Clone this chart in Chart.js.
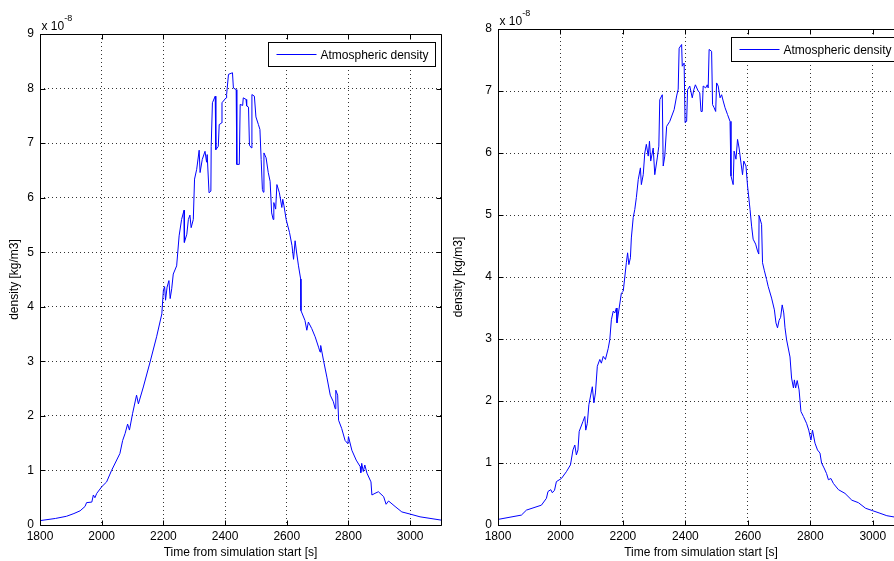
<!DOCTYPE html>
<html>
<head>
    <title>Atmospheric density</title>
    <script src="https://cdn.jsdelivr.net/npm/chart.js"></script>
    <style>
        body {
            margin: 0;
            width: 894px;
            height: 561px;
            overflow: hidden;
            background: #fff;
            position: relative;
        }
        canvas {
            position: absolute;
            top: 0;
        }
        #leftChart { left: 0; }
        #rightChart { left: 445px; }
    </style>
</head>
<body>
    <canvas id="leftChart" width="445" height="561"></canvas>
    <canvas id="rightChart" width="470" height="561"></canvas>

    <script>
        // values in units of 1e-8 kg/m3 (see the "x 10^-8" label)
        const xTicks = [1800, 2000, 2200, 2400, 2600, 2800, 3000];
        const yTicksLeft = [0, 1, 2, 3, 4, 5, 6, 7, 8, 9];
        const yTicksRight = [0, 1, 2, 3, 4, 5, 6, 7, 8];

        const timeLeft = [1800, 1850, 1886, 1910, 1930, 1946, 1951, 1968, 1973, 1978, 1984, 2000, 2016, 2032,
            2059, 2068, 2076, 2084, 2090, 2100, 2113, 2119, 2135, 2157, 2178, 2195, 2200, 2204, 2207, 2212,
            2218, 2222, 2227, 2232, 2243, 2251, 2259, 2267, 2268, 2276, 2281, 2286, 2290, 2297, 2301, 2308,
            2316, 2319, 2326, 2335, 2340, 2342, 2348, 2354, 2355, 2359, 2368, 2370, 2378, 2381, 2389, 2390,
            2403, 2405, 2411, 2424, 2427, 2436, 2438, 2446, 2449, 2457, 2459, 2468, 2470, 2476, 2479, 2486,
            2487, 2495, 2500, 2508, 2513, 2517, 2521, 2524, 2526, 2533, 2540, 2546, 2551, 2556, 2558, 2564,
            2568, 2576, 2584, 2587, 2591, 2598, 2609, 2617, 2622, 2627, 2632, 2638, 2645, 2646, 2659, 2665,
            2670, 2681, 2692, 2703, 2708, 2710, 2719, 2730, 2741, 2751, 2757, 2759, 2765, 2768, 2778, 2789,
            2798, 2800, 2811, 2825, 2838, 2840, 2843, 2848, 2853, 2860, 2873, 2876, 2886, 2897, 2914, 2922,
            2930, 2951, 2973, 3000, 3032, 3100];
        const densityLeft = [0.08, 0.12, 0.16, 0.21, 0.26, 0.34, 0.41, 0.42, 0.55, 0.50, 0.58, 0.70, 0.79, 1.00,
            1.31, 1.55, 1.68, 1.85, 1.74, 2.04, 2.38, 2.22, 2.53, 2.99, 3.45, 3.87, 4.30, 4.37, 4.12, 4.36,
            4.48, 4.15, 4.33, 4.60, 4.75, 5.30, 5.60, 5.77, 5.18, 5.33, 5.60, 5.68, 5.45, 5.60, 6.34, 6.52,
            6.87, 6.46, 6.70, 6.85, 6.65, 6.79, 6.09, 6.12, 6.94, 7.74, 7.86, 6.88, 6.94, 7.34, 7.37, 7.74,
            7.83, 7.89, 8.26, 8.29, 8.01, 7.98, 6.61, 6.61, 7.71, 7.69, 7.83, 7.80, 7.68, 7.66, 6.96, 6.91,
            7.89, 7.86, 7.48, 7.34, 7.25, 6.70, 6.15, 6.10, 6.82, 6.73, 6.46, 6.30, 5.72, 5.60, 5.91, 5.79,
            6.24, 6.09, 5.82, 5.97, 5.85, 5.60, 5.36, 5.12, 4.87, 5.21, 4.99, 4.75, 4.51, 3.93, 3.75, 3.57,
            3.72, 3.60, 3.45, 3.26, 3.17, 3.29, 3.02, 2.71, 2.38, 2.26, 2.13, 2.47, 2.38, 1.92, 1.77, 1.55,
            1.49, 1.62, 1.37, 1.19, 1.07, 0.96, 1.13, 0.98, 1.10, 0.95, 0.79, 0.55, 0.58, 0.61, 0.52, 0.38,
            0.44, 0.34, 0.24, 0.20, 0.15, 0.09];

        const timeRight = [1800, 1875, 1891, 1939, 1955, 1960, 1969, 1974, 1981, 1987, 2003, 2019, 2032, 2040,
            2046, 2051, 2056, 2060, 2072, 2078, 2081, 2086, 2091, 2102, 2107, 2112, 2118, 2126, 2131, 2137,
            2144, 2153, 2158, 2163, 2169, 2174, 2179, 2181, 2188, 2195, 2201, 2206, 2211, 2215, 2219, 2224,
            2227, 2233, 2238, 2243, 2249, 2256, 2259, 2265, 2270, 2275, 2281, 2285, 2289, 2297, 2302, 2310,
            2315, 2318, 2326, 2329, 2334, 2340, 2350, 2364, 2372, 2377, 2380, 2388, 2390, 2396, 2399, 2404,
            2407, 2414, 2422, 2427, 2432, 2441, 2446, 2450, 2454, 2457, 2465, 2470, 2473, 2476, 2484, 2487,
            2492, 2497, 2500, 2505, 2511, 2516, 2521, 2527, 2535, 2543, 2546, 2553, 2556, 2562, 2567, 2572,
            2578, 2583, 2587, 2594, 2599, 2607, 2612, 2617, 2625, 2631, 2635, 2636, 2644, 2647, 2653, 2660,
            2665, 2676, 2685, 2690, 2695, 2700, 2705, 2710, 2715, 2719, 2724, 2735, 2740, 2746, 2749, 2753,
            2758, 2764, 2770, 2778, 2788, 2795, 2802, 2807, 2815, 2823, 2831, 2836, 2844, 2852, 2858, 2866,
            2874, 2890, 2911, 2933, 2954, 2977, 3000, 3023, 3045, 3068, 3100];
        const densityRight = [0.09, 0.16, 0.24, 0.32, 0.43, 0.54, 0.57, 0.52, 0.56, 0.70, 0.75, 0.86, 0.97, 1.21,
            1.29, 1.13, 1.21, 1.51, 1.67, 1.75, 1.53, 1.64, 1.94, 2.23, 1.97, 2.13, 2.56, 2.67, 2.61, 2.72,
            2.67, 2.85, 2.99, 3.31, 3.45, 3.42, 3.50, 3.26, 3.50, 3.74, 3.77, 4.00, 4.23, 4.39, 4.20, 4.31,
            4.63, 4.96, 5.09, 5.28, 5.57, 5.76, 5.49, 5.65, 6.00, 6.14, 5.95, 6.19, 5.87, 6.08, 5.65, 5.92,
            6.11, 6.86, 6.94, 5.79, 5.95, 6.43, 6.51, 6.70, 6.92, 7.03, 7.69, 7.75, 7.40, 7.45, 6.49, 6.51,
            7.02, 7.08, 6.89, 7.02, 7.10, 7.00, 6.97, 6.67, 6.67, 7.08, 7.05, 7.10, 7.05, 7.67, 7.64, 6.78,
            6.73, 6.67, 7.13, 7.08, 6.89, 6.94, 6.84, 6.73, 6.62, 6.51, 5.63, 5.49, 6.03, 5.90, 6.22, 6.08,
            5.84, 5.65, 5.87, 5.79, 5.47, 5.09, 4.82, 4.61, 4.53, 4.42, 4.37, 4.99, 4.85, 4.23, 4.10, 3.96,
            3.85, 3.66, 3.47, 3.26, 3.18, 3.30, 3.35, 3.55, 3.42, 3.18, 2.99, 2.71, 2.37, 2.21, 2.34, 2.21,
            2.33, 2.18, 1.83, 1.75, 1.64, 1.53, 1.37, 1.53, 1.32, 1.21, 1.16, 1.00, 0.92, 0.83, 0.73, 0.75,
            0.67, 0.57, 0.51, 0.40, 0.36, 0.27, 0.23, 0.19, 0.15, 0.13, 0.12];

        const FONT = '"Liberation Sans", Arial, sans-serif';

        // MATLAB style box, inward ticks, exponent label and legend
        const matlabFrame = {
            id: 'matlabFrame',
            afterDraw(chart, args, opts) {
                const ctx = chart.ctx;
                const a = chart.chartArea;
                const x = chart.scales.x;
                const y = chart.scales.y;
                const L = Math.round(a.left) + 0.5, R = Math.round(a.right) + 0.5;
                const T = Math.round(a.top) + 0.5, B = Math.round(a.bottom) + 0.5;
                ctx.save();
                ctx.strokeStyle = '#000';
                ctx.lineWidth = 1;
                ctx.beginPath();
                ctx.rect(L, T, R - L, B - T);
                x.ticks.forEach(t => {
                    const px = Math.round(x.getPixelForValue(t.value)) + 0.5;
                    ctx.moveTo(px, B); ctx.lineTo(px, B - 5);
                    ctx.moveTo(px, T); ctx.lineTo(px, T + 5);
                });
                y.ticks.forEach(t => {
                    const py = Math.round(y.getPixelForValue(t.value)) + 0.5;
                    ctx.moveTo(L, py); ctx.lineTo(L + 5, py);
                    ctx.moveTo(R, py); ctx.lineTo(R - 5, py);
                });
                ctx.stroke();

                // exponent
                ctx.fillStyle = '#000';
                ctx.textBaseline = 'alphabetic';
                ctx.font = '12px ' + FONT;
                ctx.fillText('x 10', L + 1, T - 5);
                const w = ctx.measureText('x 10').width;
                ctx.font = '9px ' + FONT;
                ctx.fillText(opts.exponent, L + 1 + w, T - 14);

                // legend
                ctx.font = '12px ' + FONT;
                const tw = ctx.measureText(opts.label).width;
                const bw = Math.round(8 + 40 + 4 + tw + 7);
                const bx = R - 6 - bw, by = T + 8, bh = 24;
                ctx.fillStyle = '#fff';
                ctx.fillRect(bx, by, bw, bh);
                ctx.strokeRect(bx, by, bw, bh);
                ctx.strokeStyle = '#0000ff';
                ctx.beginPath();
                ctx.moveTo(bx + 8, by + bh / 2);
                ctx.lineTo(bx + 48, by + bh / 2);
                ctx.stroke();
                ctx.fillStyle = '#000';
                ctx.textBaseline = 'middle';
                ctx.fillText(opts.label, bx + 52, by + bh / 2 + 1);
                ctx.restore();
            }
        };

        function createChart(id, times, values, yTicks, yMax, layout) {
            const ctx = document.getElementById(id).getContext('2d');
            new Chart(ctx, {
                type: 'line',
                data: {
                    datasets: [{
                        label: 'Atmospheric density',
                        data: times.map((t, i) => ({ x: t, y: values[i] })),
                        borderColor: '#0000ff',
                        borderWidth: 1,
                        pointRadius: 0,
                        tension: 0
                    }]
                },
                options: {
                    responsive: false,
                    animation: false,
                    layout: { padding: { top: layout.top, right: layout.right, left: 0, bottom: 0 } },
                    plugins: {
                        legend: { display: false },
                        tooltip: { enabled: false },
                        matlabFrame: { exponent: '-8', label: 'Atmospheric density' }
                    },
                    scales: {
                        x: {
                            type: 'linear',
                            min: 1800,
                            max: 3100,
                            afterBuildTicks: s => { s.ticks = xTicks.map(v => ({ value: v })); },
                            afterFit: s => { s.height = 36; },
                            grid: { color: '#333', drawTicks: false },
                            border: { display: false, dash: [1, 3] },
                            ticks: {
                                color: '#000',
                                padding: 4,
                                maxRotation: 0,
                                font: { family: FONT, size: 12 },
                                callback: v => String(v)
                            },
                            title: {
                                display: true,
                                text: 'Time from simulation start [s]',
                                color: '#000',
                                padding: { top: 0, bottom: 1 },
                                font: { family: FONT, size: 12 }
                            }
                        },
                        y: {
                            min: 0,
                            max: yMax,
                            afterBuildTicks: s => { s.ticks = yTicks.map(v => ({ value: v })); },
                            afterFit: s => { s.width = layout.yWidth; },
                            grid: { color: '#333', drawTicks: false },
                            border: { display: false, dash: [1, 3] },
                            ticks: { color: '#000', padding: 6, font: { family: FONT, size: 12 } },
                            title: {
                                display: true,
                                text: 'density [kg/m3]',
                                color: '#000',
                                padding: { top: layout.titlePad, bottom: 0 },
                                font: { family: FONT, size: 12 }
                            }
                        }
                    }
                },
                plugins: [matlabFrame]
            });
        }

        createChart('leftChart', timeLeft, densityLeft, yTicksLeft, 9,
            { top: 34, right: 4, yWidth: 40, titlePad: 7 });
        createChart('rightChart', timeRight, densityRight, yTicksRight, 8,
            { top: 29, right: 11, yWidth: 53, titlePad: 6 });
    </script>
</body>
</html>
